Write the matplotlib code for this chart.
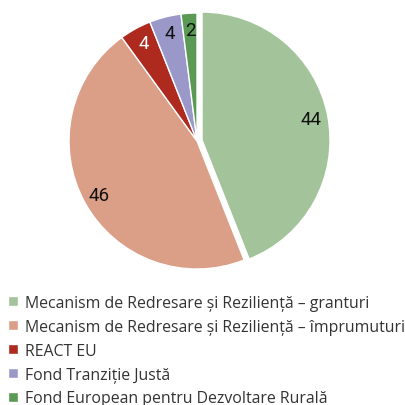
import matplotlib
matplotlib.use("Agg")
from matplotlib import pyplot as plt

categorii = ["Mecanism de Redresare și Reziliență – granturi",
             "Mecanism de Redresare și Reziliență – împrumuturi",
             "REACT EU",
             "Fond Tranziție Justă",
             "Fond European pentru Dezvoltare Rurală"]
valori = [44, 46, 4, 4, 2]
culori = ["#A3C49A", "#DB9E86", "#AE2A1F", "#9A98C8", "#5A9A55"]
culori_text = ["#111111", "#111111", "white", "#111111", "#111111"]

plt.rcParams['font.family'] = ['Open Sans', 'DejaVu Sans']

fig = plt.figure(figsize=(4.06, 4.06), dpi=100)
ax = fig.add_axes([0.170, 0.335, 0.6305, 0.6305])

wedges, texts, autotexts = ax.pie(valori, colors=culori, startangle=90, counterclock=False,
                                  explode=[0.04, 0, 0, 0, 0],
                                  autopct=lambda p: "%d" % round(p), pctdistance=0.87,
                                  wedgeprops=dict(edgecolor="white", linewidth=1.0))
for w in wedges:
    w.set_clip_on(False)
for t, c in zip(autotexts, culori_text):
    t.set_color(c)
    t.set_fontsize(13.5)
    t.set_family(["Roboto", "DejaVu Sans"])
ax.set_xlim(-1.0, 1.0)
ax.set_ylim(-1.0, 1.0)
ax.set_aspect("equal")

leg = fig.legend(wedges, categorii, loc="upper left", bbox_to_anchor=(0.005, 0.287),
                 frameon=False, fontsize=11.4, handlelength=0.6, handleheight=0.6,
                 handletextpad=0.45, labelspacing=0.5, borderaxespad=0)
for t in leg.get_texts():
    t.set_color("#333333")

fig.savefig("out.png", dpi=100)
